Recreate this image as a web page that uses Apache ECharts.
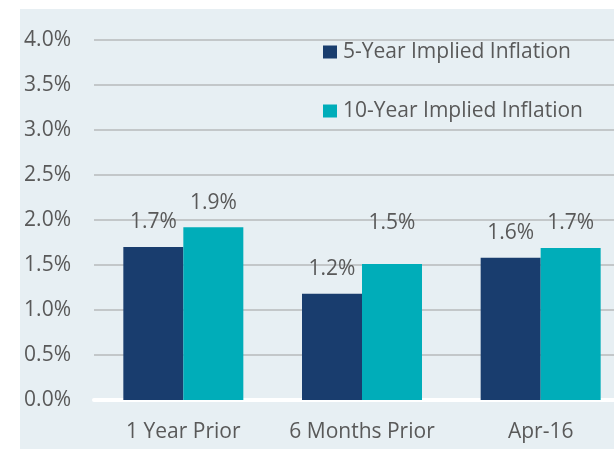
<!DOCTYPE html>
<html>
<head>
<meta charset="utf-8">
<script src="https://cdn.jsdelivr.net/npm/echarts@6/dist/echarts.min.js"></script>
<style>
  html, body { margin: 0; padding: 0; background: #ffffff; }
  #chart { width: 614px; height: 449px; }
</style>
</head>
<body>
<div id="chart"></div>
<script>
// data
const categories = ['1 Year Prior', '6 Months Prior', 'Apr-16']
const fiveYear = [1.70, 1.18, 1.58]
const tenYear = [1.92, 1.51, 1.69]
const seriesNames = ['5-Year Implied Inflation', '10-Year Implied Inflation']
const yTicks = [0, 0.5, 1, 1.5, 2, 2.5, 3, 3.5, 4]

const textColor = '#595959'
const font = 'Open Sans'
const fontSize = 21

const chart = echarts.init(document.getElementById('chart'))

const labelStyle = {
  show: true,
  position: 'top',
  distance: 14,
  color: textColor,
  fontFamily: font,
  fontSize: fontSize,
  formatter: p => p.value.toFixed(1) + '%'
}

const option = {
  animation: false,
  graphic: [{
    type: 'rect',
    z: -10,
    shape: { x: 20, y: 9, width: 600, height: 445 },
    style: { fill: '#e7eff3' }
  }],
  legend: {
    orient: 'vertical',
    left: 318,
    top: 35,
    itemWidth: 14,
    itemHeight: 13,
    itemGap: 35,
    icon: 'rect',
    textStyle: { color: textColor, fontFamily: font, fontSize: 21, lineHeight: 24, padding: [0, 0, 0, 1] },
    data: seriesNames
  },
  grid: {
    left: 94,
    top: 40,
    right: -16,
    height: 360,
    outerBoundsMode: 'none',
    containLabel: false
  },
  xAxis: {
    type: 'category',
    data: categories,
    axisLine: { show: true, lineStyle: { color: '#ffffff', width: 4 } },
    axisTick: { show: false },
    axisLabel: { interval: 0, hideOverlap: false, color: textColor, fontFamily: font, fontSize: fontSize, margin: 22 }
  },
  yAxis: {
    type: 'value',
    min: yTicks[0],
    max: yTicks[yTicks.length - 1],
    interval: 0.5,
    axisLine: { show: false },
    axisTick: { show: false },
    splitLine: { lineStyle: { color: '#c3c7c9', width: 2 } },
    axisLabel: {
      color: textColor,
      fontFamily: font,
      fontSize: fontSize,
      margin: 23,
      formatter: v => v.toFixed(1) + '%'
    }
  },
  series: [
    {
      name: seriesNames[0],
      type: 'bar',
      data: fiveYear,
      barWidth: 60,
      barGap: '0%',
      itemStyle: { color: '#193d6e' },
      label: labelStyle
    },
    {
      name: seriesNames[1],
      type: 'bar',
      data: tenYear.map((v, i) => i === 1 ? { value: v, label: { distance: 31 } } : v),
      barWidth: 60,
      itemStyle: { color: '#00adb9' },
      label: labelStyle
    }
  ]
}

chart.setOption(option)
</script>
</body>
</html>
